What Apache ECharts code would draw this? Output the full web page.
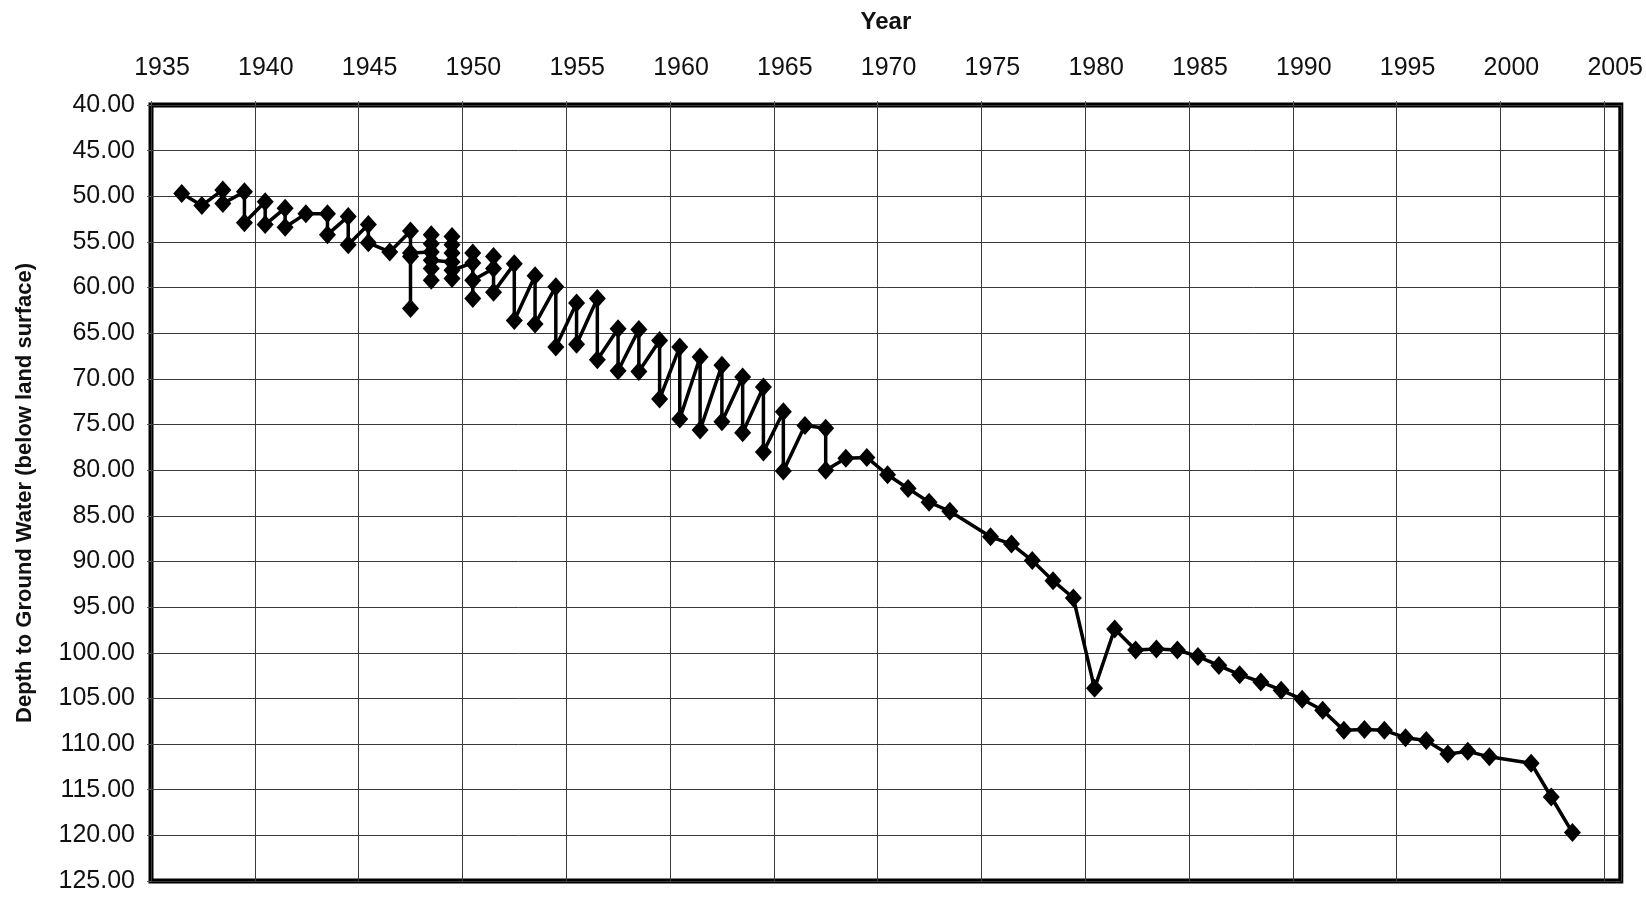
<!DOCTYPE html>
<html>
<head>
<meta charset="utf-8">
<script src="https://cdn.jsdelivr.net/npm/echarts@6/dist/echarts.min.js"></script>
<style>
html,body{margin:0;padding:0;background:#fff;}
#chart{width:1646px;height:898px;}
</style>
</head>
<body>
<div id="chart"></div>
<script>
// Measurement dates (decimal years) and depth to ground water (ft below land surface)
const years = [
  1936.48, 1937.45, 1938.46, 1938.46, 1939.50, 1939.50, 1940.50, 1940.50,
  1941.46, 1941.46, 1942.46, 1943.50, 1943.50, 1944.50, 1944.50, 1945.47,
  1945.47, 1946.50, 1947.50, 1947.50, 1947.50, 1947.50, 1948.50, 1948.50,
  1948.50, 1948.50, 1948.50, 1948.50, 1949.50, 1949.50, 1949.50, 1949.50,
  1949.50, 1949.50, 1950.50, 1950.50, 1950.50, 1950.50, 1951.50, 1951.50,
  1951.50, 1952.50, 1952.50, 1953.50, 1953.50, 1954.50, 1954.50, 1955.50,
  1955.50, 1956.50, 1956.50, 1957.50, 1957.50, 1958.50, 1958.50, 1959.50,
  1959.50, 1960.47, 1960.47, 1961.45, 1961.45, 1962.50, 1962.50, 1963.50,
  1963.50, 1964.50, 1964.50, 1965.46, 1965.46, 1966.50, 1967.50, 1967.50,
  1968.47, 1969.48, 1970.48, 1971.47, 1972.48, 1973.48, 1975.44, 1976.45,
  1977.45, 1978.45, 1979.43, 1980.45, 1981.42, 1982.43, 1983.43, 1984.44,
  1985.43, 1986.44, 1987.44, 1988.46, 1989.44, 1990.45, 1991.44, 1992.46,
  1993.45, 1994.41, 1995.43, 1996.43, 1997.47, 1998.43, 1999.47, 2001.48,
  2002.45, 2003.47
];
const depths = [
  49.7, 51.0, 49.3, 50.8, 49.5, 52.9, 50.6, 53.1,
  51.3, 53.4, 51.9, 51.9, 54.2, 52.2, 55.3, 53.1,
  55.1, 56.1, 53.8, 62.3, 56.6, 56.2, 56.1, 54.2,
  55.2, 59.2, 57.9, 57.0, 57.2, 54.4, 55.3, 56.2,
  59.0, 58.1, 57.3, 56.2, 61.2, 59.2, 57.9, 56.6,
  60.5, 57.4, 63.6, 58.7, 64.0, 59.9, 66.5, 61.7,
  66.2, 61.2, 67.9, 64.5, 69.1, 64.6, 69.2, 65.8,
  72.2, 66.5, 74.4, 67.6, 75.6, 68.5, 74.7, 69.8,
  75.9, 70.9, 78.0, 73.6, 80.1, 75.1, 75.4, 80.0,
  78.7, 78.6, 80.5, 82.0, 83.5, 84.5, 87.3, 88.1,
  89.9, 92.1, 94.0, 103.9, 97.4, 99.7, 99.6, 99.7,
  100.4, 101.4, 102.4, 103.2, 104.1, 105.1, 106.3, 108.5,
  108.4, 108.5, 109.3, 109.6, 111.1, 110.8, 111.4, 112.1,
  115.8, 119.7
];
const xTitle = 'Year';
const yTitle = 'Depth to Ground Water (below land surface)';

const seriesData = years.map((y, i) => [y, depths[i]]);
const font = 'Liberation Sans, Arial, sans-serif';

const chart = echarts.init(document.getElementById('chart'), null, {renderer: 'canvas'});
chart.setOption({
  animation: false,
  backgroundColor: '#ffffff',
  grid: {
    left: 151, right: 24, top: 105, bottom: 17,
    show: true, borderColor: '#000', borderWidth: 5, backgroundColor: 'transparent'
  },
  xAxis: {
    type: 'value', position: 'top', min: 1935, max: 2005.8, interval: 5,
    name: xTitle, nameLocation: 'middle', nameGap: 71,
    nameTextStyle: {fontFamily: font, fontWeight: 'bold', fontSize: 24, color: '#111'},
    axisLine: {show: false},
    axisTick: {show: true, length: 4, lineStyle: {color: '#555'}},
    axisLabel: {
      fontFamily: font, fontSize: 25, color: '#111', margin: 24,
      padding: [0, 0, 0, 22], showMaxLabel: false,
      formatter: v => (Math.abs(v % 5) < 1e-6 ? String(Math.round(v)) : '')
    },
    splitLine: {show: true, lineStyle: {color: '#3a3a3a', width: 1}}
  },
  yAxis: {
    type: 'value', inverse: true, min: 40, max: 125, interval: 5,
    name: yTitle, nameLocation: 'middle', nameGap: 115,
    nameTextStyle: {fontFamily: font, fontWeight: 'bold', fontSize: 22, color: '#111'},
    axisLine: {show: false},
    axisTick: {show: true, length: 4, lineStyle: {color: '#555'}},
    axisLabel: {
      fontFamily: font, fontSize: 25, color: '#111', margin: 16,
      formatter: v => v.toFixed(2)
    },
    splitLine: {show: true, lineStyle: {color: '#3a3a3a', width: 1}}
  },
  series: [{
    type: 'line',
    data: seriesData,
    symbol: 'diamond',
    symbolSize: [17, 19],
    showAllSymbol: true,
    itemStyle: {color: '#000'},
    lineStyle: {color: '#000', width: 3.5},
    z: 5
  }]
});
</script>
</body>
</html>
